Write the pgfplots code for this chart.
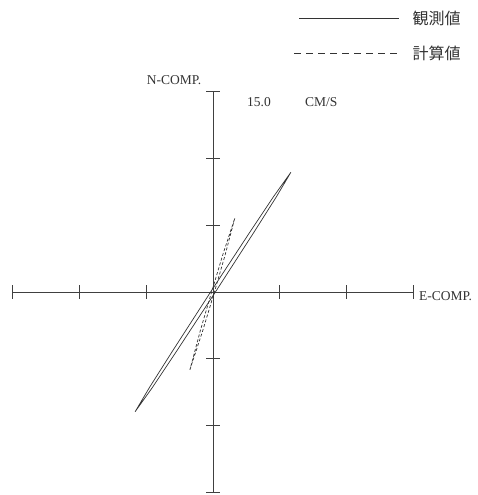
\documentclass[border=0pt]{standalone}
\usepackage{fontspec}
\setmainfont{Liberation Serif}
\newfontfamily\cjk{Noto Sans CJK JP}
\usepackage{pgfplots}
\pgfplotsset{compat=1.18}

% particle orbit, E-W vs N-S velocity (cm/s)
\begin{document}
\begin{tikzpicture}[x=1pt,y=1pt]
\useasboundingbox (0,0) rectangle (477,495);
\begin{axis}[
  at={(12.75pt,2.75pt)}, anchor=south west,
  x=4.45pt, y=4.45pt,
  xmin=-45, xmax=45, ymin=-45, ymax=45,
  axis lines=center,
  axis line style={-, black!75, line width=0.8pt},
  xtick={-45,-30,-15,15,30,45},
  ytick={-45,-30,-15,15,30,45},
  xticklabels={}, yticklabels={},
  tick align=center,
  major tick length=14pt,
  tick style={black!75, line width=0.8pt},
  clip=false,
  legend cell align=left,
  legend style={
    at={(1.124,1.207)}, anchor=north east,
    draw=none, fill=none, inner sep=0pt,
    font=\cjk\fontsize{16}{18}\selectfont,
    row sep=16pt,
    nodes={inner sep=2pt, text=black!80},
    /tikz/every odd column/.append style={column sep=11pt},
  },
]
\addplot[black!80, line width=0.7pt,
  legend image code/.code={\draw[black!80, line width=0.8pt] (0pt,0pt) -- (100pt,0pt);}]
  coordinates {
  (-17.5,-26.9) (-13.77,-21.67) (-8.42,-13.66) (0.38,-0.25) (9.08,13.24) (14.23,21.37)
  (17.5,26.9)
  (13.77,21.67) (8.42,13.66) (-0.38,0.25) (-9.08,-13.24) (-14.23,-21.37) (-17.5,-26.9)
};
\addlegendentry{観測値}
\addplot[black!80, line width=0.7pt, dash pattern=on 3pt off 2pt,
  legend image code/.code={\draw[black!80, line width=0.8pt, dash pattern=on 6.5pt off 5.5pt] (-5pt,0pt) -- (100pt,0pt);}]
  coordinates {
  (-5.2,-17.5) (-2.35,-8.82) (0.29,-0.09) (2.70,8.23) (4.9,16.6)
  (2.20,8.37) (-0.29,0.09) (-2.85,-8.68) (-5.2,-17.5)
};
\addlegendentry{計算値}
\end{axis}
\node[font=\fontsize{13.5}{16}\selectfont, text=black!80] at (174,415) {N-COMP.};
\node[font=\fontsize{13.5}{16}\selectfont, text=black!80, anchor=west, inner sep=0pt] at (419,199) {E-COMP.};
\node[font=\fontsize{13.5}{16}\selectfont, text=black!80, anchor=west, inner sep=0pt] at (247,393) {15.0};
\node[font=\fontsize{13.5}{16}\selectfont, text=black!80, anchor=west, inner sep=0pt] at (305,393) {CM/S};
\end{tikzpicture}
\end{document}
